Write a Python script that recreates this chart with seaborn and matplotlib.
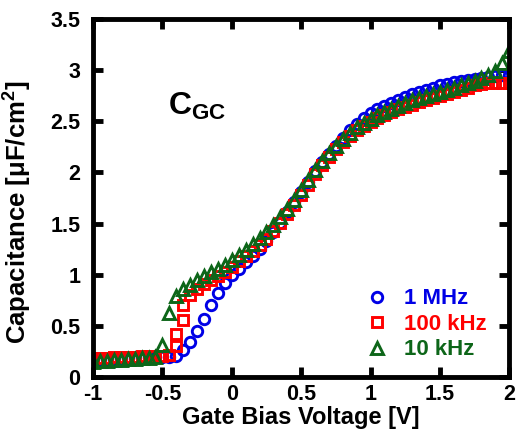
import numpy as np
import pandas as pd
import matplotlib
matplotlib.use("Agg")
import matplotlib.pyplot as plt
import seaborn as sns

# Gate bias sweep [V]
v_grid = [-1.00, -0.95, -0.90, -0.85, -0.80, -0.75, -0.70, -0.65, -0.60, -0.55,
          -0.50, -0.45, -0.40, -0.35, -0.30, -0.25, -0.20, -0.15, -0.10, -0.05,
          0.00, 0.05, 0.10, 0.15, 0.20, 0.25, 0.30, 0.35, 0.40, 0.45,
          0.50, 0.55, 0.60, 0.65, 0.70, 0.75, 0.80, 0.85, 0.90, 0.95,
          1.00, 1.05, 1.10, 1.15, 1.20, 1.25, 1.30, 1.35, 1.40, 1.45,
          1.50, 1.55, 1.60, 1.65, 1.70, 1.75, 1.80, 1.85, 1.90, 1.95, 2.00]

# Gate-to-channel capacitance [uF/cm^2]
c_1mhz = [0.17, 0.17, 0.18, 0.18, 0.18, 0.19, 0.19, 0.19, 0.20, 0.20,
          0.20, 0.20, 0.21, 0.26, 0.34, 0.45, 0.57, 0.70, 0.82, 0.92,
          1.00, 1.06, 1.12, 1.18, 1.25, 1.33, 1.42, 1.51, 1.61, 1.71,
          1.81, 1.91, 2.01, 2.10, 2.18, 2.26, 2.34, 2.41, 2.47, 2.53,
          2.58, 2.62, 2.65, 2.68, 2.71, 2.74, 2.77, 2.79, 2.81, 2.83,
          2.85, 2.86, 2.88, 2.89, 2.90, 2.91, 2.92, 2.93, 2.94, 2.95, 2.95]

v_100k = [-1.00, -0.95, -0.90, -0.85, -0.80, -0.75, -0.70, -0.65, -0.60, -0.55,
          -0.50, -0.45, -0.40, -0.40, -0.35, -0.35, -0.30, -0.25, -0.20, -0.15,
          -0.10, -0.05, 0.00, 0.05, 0.10, 0.15, 0.20, 0.25, 0.30, 0.35,
          0.40, 0.45, 0.50, 0.55, 0.60, 0.65, 0.70, 0.75, 0.80, 0.85,
          0.90, 0.95, 1.00, 1.05, 1.10, 1.15, 1.20, 1.25, 1.30, 1.35,
          1.40, 1.45, 1.50, 1.55, 1.60, 1.65, 1.70, 1.75, 1.80, 1.85,
          1.90, 1.95, 2.00]
c_100k = [0.19, 0.19, 0.19, 0.20, 0.20, 0.20, 0.20, 0.21, 0.21, 0.21,
          0.21, 0.22, 0.30, 0.42, 0.56, 0.70, 0.80, 0.86, 0.91, 0.95,
          0.99, 1.03, 1.08, 1.13, 1.18, 1.23, 1.29, 1.35, 1.43, 1.51,
          1.59, 1.68, 1.78, 1.88, 1.98, 2.07, 2.15, 2.23, 2.30, 2.36,
          2.41, 2.45, 2.49, 2.53, 2.56, 2.59, 2.62, 2.64, 2.66, 2.69,
          2.71, 2.73, 2.75, 2.77, 2.79, 2.81, 2.83, 2.85, 2.86, 2.87,
          2.87, 2.87, 2.87]

c_10k = [0.15, 0.16, 0.16, 0.17, 0.17, 0.18, 0.18, 0.19, 0.19, 0.20,
         0.31, 0.63, 0.79, 0.86, 0.90, 0.95, 0.99, 1.03, 1.06, 1.10,
         1.14, 1.19, 1.24, 1.30, 1.36, 1.42, 1.49, 1.56, 1.64, 1.73,
         1.83, 1.93, 2.02, 2.11, 2.19, 2.26, 2.33, 2.39, 2.44, 2.48,
         2.52, 2.56, 2.59, 2.62, 2.65, 2.68, 2.71, 2.73, 2.75, 2.77,
         2.79, 2.81, 2.83, 2.85, 2.87, 2.89, 2.92, 2.95, 2.99, 3.07, 3.19]

series_labels = ["1 MHz", "100 kHz", "10 kHz"]
series_colors = ["#0000e6", "#ff0000", "#0d6619"]
series_markers = ["o", "s", "^"]

x_ticks = [-1, -0.5, 0, 0.5, 1, 1.5, 2]
x_tick_labels = ["-1", "-0.5", "0", "0.5", "1", "1.5", "2"]
y_ticks = [0, 0.5, 1, 1.5, 2, 2.5, 3, 3.5]
y_tick_labels = ["0", "0.5", "1", "1.5", "2", "2.5", "3", "3.5"]

sns.set_theme(style="ticks")
plt.rcParams["font.family"] = ["Liberation Sans", "DejaVu Sans"]
plt.rcParams["font.weight"] = "bold"
plt.rcParams["text.color"] = "black"
plt.rcParams["axes.labelcolor"] = "black"
plt.rcParams["xtick.color"] = "black"
plt.rcParams["ytick.color"] = "black"
plt.rcParams["mathtext.fontset"] = "custom"
plt.rcParams["mathtext.rm"] = "Liberation Sans:bold"
plt.rcParams["mathtext.bf"] = "Liberation Sans:bold"
plt.rcParams["mathtext.it"] = "Liberation Sans:bold"

df = pd.concat([
    pd.DataFrame({"V": v_grid, "C": c_1mhz, "f": series_labels[0]}),
    pd.DataFrame({"V": v_100k, "C": c_100k, "f": series_labels[1]}),
    pd.DataFrame({"V": v_grid, "C": c_10k, "f": series_labels[2]}),
], ignore_index=True)

fig = plt.figure(figsize=(5.17, 4.41), dpi=100)
ax = fig.add_axes([0.180, 0.145, 0.805, 0.812])

marker_sizes = [7.5, 7.0, 9.0]
for lab, col, mk, ms in zip(series_labels, series_colors, series_markers, marker_sizes):
    sub = df[df["f"] == lab]
    sns.lineplot(data=sub, x="V", y="C", ax=ax, estimator=None, sort=False,
                 errorbar=None, linestyle="", marker=mk, markersize=ms,
                 markerfacecolor="none", markeredgecolor=col,
                 markeredgewidth=2.1, color=col, label=lab)

ax.set_xlim(-1, 2)
ax.set_ylim(0, 3.5)
ax.set_xticks(x_ticks)
ax.set_xticklabels(x_tick_labels)
ax.set_yticks(y_ticks)
ax.set_yticklabels(y_tick_labels)
ax.tick_params(direction="in", length=7, width=3.5, labelsize=15.5,
               top=True, right=True)
ax.tick_params(axis="x", pad=5)
ax.tick_params(axis="y", pad=9)
for lbl in ax.get_xticklabels() + ax.get_yticklabels():
    lbl.set_fontweight("bold")
for sp in ax.spines.values():
    sp.set_linewidth(3.5)
    sp.set_color("black")

ax.set_xlabel("Gate Bias Voltage [V]", fontsize=17, fontweight="bold", labelpad=1)
ax.set_ylabel(r"Capacitance [μF/cm$^2$]", fontsize=18.5, fontweight="bold")
ax.yaxis.set_label_coords(-0.142, 0.46)

ax.text(0.18, 0.755, r"$\mathbf{C_{GC}}$", transform=ax.transAxes,
        fontsize=23, ha="left", va="center")

leg = ax.legend(loc="lower right", bbox_to_anchor=(0.966, 0.022), frameon=False,
                labelcolor="markeredgecolor", handlelength=1.0, handletextpad=0.7,
                labelspacing=0.2, borderaxespad=0.0,
                prop={"weight": "bold", "size": 16})

fig.savefig("out.png", dpi=100)
